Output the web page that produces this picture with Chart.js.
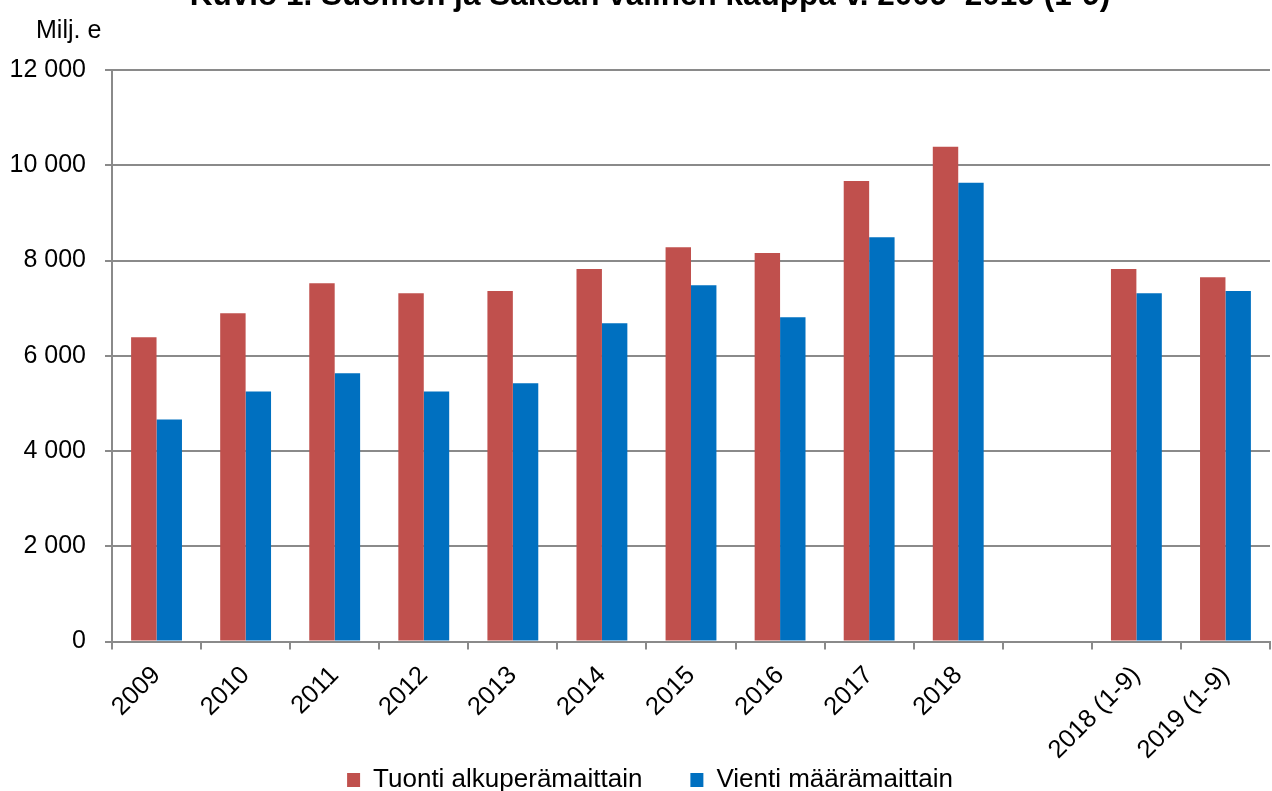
<!DOCTYPE html>
<html>
<head>
<meta charset="utf-8">
<script src="https://cdn.jsdelivr.net/npm/chart.js@4/dist/chart.umd.min.js"></script>
<style>
  html, body { margin: 0; padding: 0; background: #fff; }
  #frame { position: relative; width: 1272px; height: 791px; overflow: hidden; }
  #box { position: absolute; left: 0; top: -30px; width: 1272px; height: 840px; }
</style>
</head>
<body>
<div id="frame"><div id="box"><canvas id="c"></canvas></div></div>
<script>
const titleText = 'Kuvio 1. Suomen ja Saksan välinen kauppa v. 2009–2019 (1-9)';
const unitText = 'Milj. e';
const categories = ['2009', '2010', '2011', '2012', '2013', '2014', '2015', '2016', '2017', '2018', '', '2018 (1-9)', '2019 (1-9)'];
const tuonti = [6390, 6890, 7520, 7310, 7360, 7820, 8280, 8160, 9670, 10390, null, 7820, 7650];
const vienti = [4660, 5250, 5630, 5250, 5420, 6680, 7480, 6810, 8490, 9630, null, 7310, 7360];
const seriesNames = ['Tuonti alkuperämaittain', 'Vienti määrämaittain'];
const yTicks = [0, 2000, 4000, 6000, 8000, 10000, 12000];

const FONT = "'Liberation Sans', Arial, sans-serif";
const GRID = '#8a8a8a';

const unitLabel = {
  id: 'unitLabel',
  afterLayout(chart) {
    // centre title and legend over the same span as the original (offset 30px)
    if (chart.titleBlock) { chart.titleBlock.left += 30; }
    if (chart.legend) { chart.legend.left += 30; }
    // let rotated category labels draw without clipping
    chart.scales.x.bottom = chart.height;
  },
  afterDraw(chart) {
    const ctx = chart.ctx;
    ctx.save();
    ctx.font = '25px ' + FONT;
    ctx.fillStyle = '#000';
    ctx.textBaseline = 'alphabetic';
    ctx.textAlign = 'left';
    ctx.fillText(unitText, 36, 68);
    ctx.restore();
  }
};

new Chart(document.getElementById('c'), {
  type: 'bar',
  data: {
    labels: categories,
    datasets: [
      { label: seriesNames[0], data: tuonti, backgroundColor: '#C0504D', borderWidth: 0 },
      { label: seriesNames[1], data: vienti, backgroundColor: '#0070C0', borderWidth: 0 }
    ]
  },
  options: {
    responsive: true,
    maintainAspectRatio: false,
    animation: false,
    devicePixelRatio: 1,
    layout: { padding: { left: 0, right: 2, top: 0, bottom: 7 } },
    datasets: { bar: { categoryPercentage: 0.571, barPercentage: 1.0 } },
    plugins: {
      title: {
        display: true,
        text: titleText,
        color: '#000',
        font: { family: FONT, size: 31.5, weight: 'bold' },
        padding: { top: 7, bottom: 55.2 }
      },
      legend: {
        position: 'bottom',
        labels: {
          color: '#000',
          font: { family: FONT, size: 26 },
          boxWidth: 13,
          boxHeight: 14,
          padding: 48
        }
      },
      tooltip: { enabled: false }
    },
    scales: {
      x: {
        grid: { display: true, drawOnChartArea: false, offset: true, color: GRID, lineWidth: 2, tickLength: 8 },
        border: { display: true, color: GRID, width: 2 },
        ticks: {
          color: '#000',
          font: { family: FONT, size: 25.5 },
          maxRotation: 45,
          minRotation: 45,
          autoSkip: false,
          padding: 11
        },
        afterFit(scale) { scale.height = 77.5; }
      },
      y: {
        min: 0,
        max: 12000,
        afterBuildTicks(scale) { scale.ticks = yTicks.map(v => ({ value: v })); },
        grid: { color: GRID, lineWidth: 2, tickLength: 7 },
        border: { display: true, color: GRID, width: 2 },
        ticks: {
          color: '#000',
          font: { family: FONT, size: 25 },
          padding: 19,
          callback: v => v === 0 ? '0' : String(v).replace(/\B(?=(\d{3})+(?!\d))/g, ' ')
        },
        afterFit(scale) { scale.width = 112; }
      }
    }
  },
  plugins: [unitLabel]
});
</script>
</body>
</html>
